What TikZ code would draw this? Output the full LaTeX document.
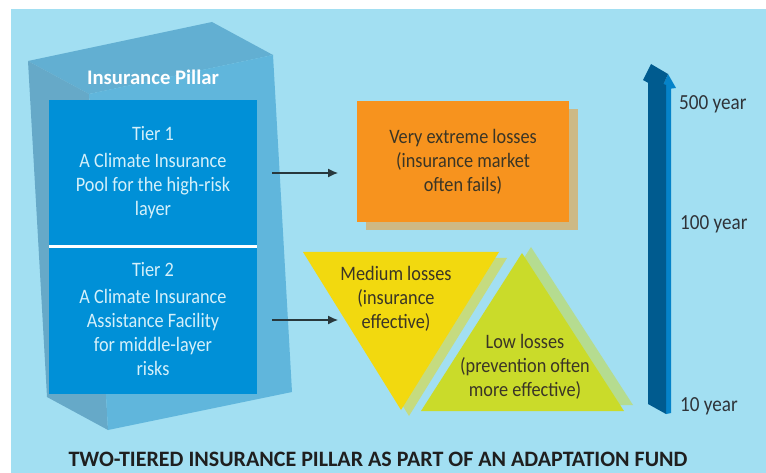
\documentclass[tikz,border=0pt]{standalone}
\usepackage{fontspec}
\setmainfont{Carlito}
\newfontfamily\condfont[FakeStretch=0.89]{Carlito}
\usetikzlibrary{arrows.meta}
\definecolor{bgblue}{HTML}{A2DFF2}
\definecolor{ptop}{HTML}{62AFD2}
\definecolor{pleft}{HTML}{66A9C8}
\definecolor{pfront}{HTML}{60B6DC}
\definecolor{tierblue}{HTML}{0090D7}
\definecolor{tiertext}{HTML}{D5F0FA}
\definecolor{orangefill}{HTML}{F7931E}
\definecolor{orangeshadow}{HTML}{CDB985}
\definecolor{yellowfill}{HTML}{F2D90F}
\definecolor{yellowshadow}{HTML}{C5DB80}
\definecolor{greenfill}{HTML}{CADB2A}
\definecolor{greenshadow}{HTML}{B5DC90}
\definecolor{arrowdark}{HTML}{005B8F}
\definecolor{arrowlight}{HTML}{0583C9}
\definecolor{inktext}{HTML}{3A3526}
\definecolor{labeltext}{HTML}{2F3338}
\tikzset{
  x=1pt,y=-1pt,
  bodytext/.style={inner sep=0pt,align=center,font=\condfont\fontsize{20.5}{24}\selectfont},
  tierbox/.style={inner sep=0pt,fill=tierblue,minimum width=208pt,anchor=north west},
  darktext/.style={bodytext,text=inktext},
  scalelabel/.style={inner sep=0pt,anchor=west,text=labeltext,font=\condfont\fontsize{21.5}{24}\selectfont},
  connector/.style={draw=black!75!bgblue,line width=1.2pt,-{Latex[length=10pt,width=9pt]}}
}
\begin{document}
\begin{tikzpicture}
\useasboundingbox (0,0) rectangle (766,473);
\fill[white] (0,0) rectangle (766,473);
\fill[bgblue] (11,9) rectangle (766,473);
% pillar
\fill[ptop] (28,61) -- (212,22) -- (273,55) -- (89,94) -- cycle;
\fill[pleft] (28,61) -- (89,94) -- (108,430) -- (47,397) -- cycle;
\fill[pfront] (89,94) -- (273,55) -- (292,392) -- (108,430) -- cycle;
\node[inner sep=0pt,text=white,font=\fontsize{20.7}{24}\selectfont\bfseries] (pillar) at (153,77.5) {Insurance Pillar};
% tiers
\node[tierbox,minimum height=145pt] (tier1) at (49,100) {};
\node[tierbox,minimum height=147pt] (tier2) at (49,247) {};
\fill[white] (49,245) rectangle (257,248);
\node[bodytext,text=tiertext] (t1text) at (153,172.5) {Tier 1\\[3pt]A Climate Insurance\\Pool for the high-risk\\layer};
\node[bodytext,text=tiertext] (t2text) at (153,319.5) {Tier 2\\[3pt]A Climate Insurance\\Assistance Facility\\for middle-layer\\risks};
% orange
\fill[orangeshadow] (366,109) rectangle (578,230);
\node[inner sep=0pt,fill=orangefill,minimum width=212pt,minimum height=121pt,anchor=north west] (orange) at (357,101) {};
\node[darktext] (otext) at (463,161.5) {Very extreme losses\\(insurance market\\often fails)};
% triangles
\fill[yellowshadow] (311,258) -- (507,258) -- (409,416) -- cycle;
\fill[yellowfill] (303,252) -- (499,252) -- (401,410) -- cycle;
\node[darktext] (mtext) at (396,298.5) {Medium losses\\(insurance\\effective)};
\fill[greenshadow] (531,247) -- (633,405) -- (430,405) -- cycle;
\fill[greenfill] (522,253) -- (624,411) -- (421,411) -- cycle;
\node[darktext] (ltext) at (525,366.5) {Low losses\\(prevention often\\more effective)};
% connectors
\coordinate (a1s) at (272,173); \coordinate (a1e) at (338,173);
\coordinate (a2s) at (272,320); \coordinate (a2e) at (338,320);
\draw[connector] (a1s) -- (a1e);
\draw[connector] (a2s) -- (a2e);
% scale arrow
\fill[arrowlight] (666,85) -- (671,85) -- (671,413) -- (666,414) -- cycle;
\fill[arrowlight] (668,74) -- (676,88) -- (661,90) -- cycle;
\fill[arrowdark] (648,78) -- (666,85) -- (666,414) -- (648,404) -- cycle;
\fill[arrowdark] (643,80) -- (651,64) -- (668,74) -- (661,90) -- cycle;
\node[scalelabel] (y500) at (679,104) {500 year};
\node[scalelabel] (y100) at (680,224) {100 year};
\node[scalelabel] (y10) at (680,406) {10 year};
% title
\node[inner sep=0pt,text=black!88,font=\fontsize{22}{26}\selectfont\bfseries] (title) at (378,459) {TWO-TIERED INSURANCE PILLAR AS PART OF AN ADAPTATION FUND};
\end{tikzpicture}
\end{document}
